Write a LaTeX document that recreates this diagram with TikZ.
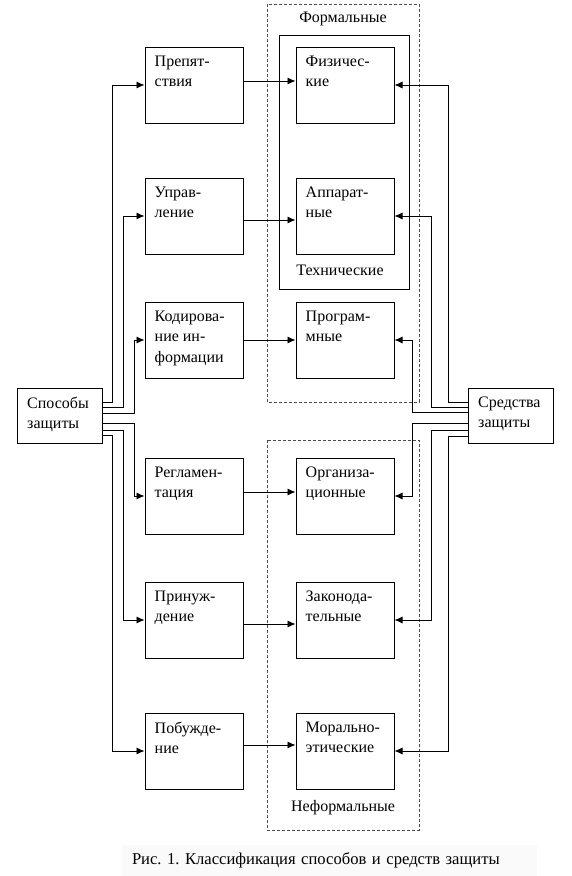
\documentclass[tikz,border=0pt]{standalone}
\usepackage{fontspec}
\setmainfont{Liberation Serif}
\usetikzlibrary{arrows.meta}

\begin{document}
\begin{tikzpicture}[x=1pt, y=-1pt,
box/.style={rectangle, draw, line width=1pt, minimum width=98pt, minimum height=76pt, inner sep=0pt},
sidebox/.style={rectangle, draw, line width=1pt, minimum width=85pt, minimum height=55pt, inner sep=0pt},
txt/.style={anchor=north west, align=left, inner sep=0pt, xshift=10pt, yshift=-9pt},
grp/.style={draw=black!70, dashed, line width=0.8pt, dash pattern=on 3pt off 2pt},
arr/.style={-{Latex[length=8pt, width=7pt]}, line width=0.8pt},
every node/.style={font=\fontsize{16}{20.5}\selectfont},
]
\useasboundingbox (0,0) rectangle (571,876);

%Groups
\draw[grp] (267,4) rectangle (419,402);
\draw[grp] (267,440) rectangle (419,830);
\draw[line width=1pt] (279,35) rectangle (409,289);
\node (formal) at (343,19) {Формальные};
\node (tech)   at (340,270) {Технические};
\node (informal) at (343,808) {Неформальные};

%Nodes
\node[sidebox] (sposob)  at (60,415.5)  {};
\node[sidebox] (sredstv) at (511,415.5) {};
\node[txt] at (sposob.north west)  {Способы\\защиты};
\node[txt] at (sredstv.north west) {Средства\\защиты};

\node[box] (prep) at (194,85)  {};
\node[box] (upr)  at (194,216) {};
\node[box] (kod)  at (194,340) {};
\node[box] (regl) at (194,496) {};
\node[box] (prin) at (194,620) {};
\node[box] (pob)  at (194,751) {};
\node[txt] at (prep.north west) {Препят-\\ствия};
\node[txt] at (upr.north west)  {Управ-\\ление};
\node[txt] at (kod.north west)  {Кодирова-\\ние ин-\\формации};
\node[txt] at (regl.north west) {Регламен-\\тация};
\node[txt] at (prin.north west) {Принуж-\\дение};
\node[txt] at (pob.north west)  {Побужде-\\ние};

\node[box] (fiz)  at (345,85)  {};
\node[box] (app)  at (345,216) {};
\node[box] (prog) at (345,340) {};
\node[box] (org)  at (345,496) {};
\node[box] (zak)  at (345,620) {};
\node[box] (mor)  at (345,751) {};
\node[txt] at (fiz.north west)  {Физичес-\\кие};
\node[txt] at (app.north west)  {Аппарат-\\ные};
\node[txt] at (prog.north west) {Програм-\\мные};
\node[txt] at (org.north west)  {Организа-\\ционные};
\node[txt] at (zak.north west)  {Законода-\\тельные};
\node[txt] at (mor.north west)  {Морально-\\этические};

%Lines
\foreach \b/\y/\x in {prep/402/112, upr/407/123, kod/413/134, regl/423/134, prin/430/123, pob/435/112}
  \draw[arr] (sposob.east |- 0,\y) -| (\x,0 |- \b.west) -- (\b.west);
\foreach \b/\y/\x in {fiz/402/448, app/407/431, prog/412/412, org/423/412, zak/430/431, mor/436/448}
  \draw[arr] (sredstv.west |- 0,\y) -| (\x,0 |- \b.east) -- (\b.east);
\foreach \a/\b/\d in {prep/fiz/4, upr/app/-4, kod/prog/0, regl/org/4, prin/zak/-4, pob/mor/6}
  \draw[arr] ([yshift=\d]\a.east) -- ([yshift=\d]\b.west);

%Caption
\node[fill=black!2, text width=395pt, align=left, inner xsep=10pt, minimum height=31pt,
  font=\fontsize{16.6}{20.5}\selectfont\frenchspacing] (caption) at (329.5,860)
  {Рис. 1. Классификация способов и средств защиты};
\end{tikzpicture}
\end{document}
